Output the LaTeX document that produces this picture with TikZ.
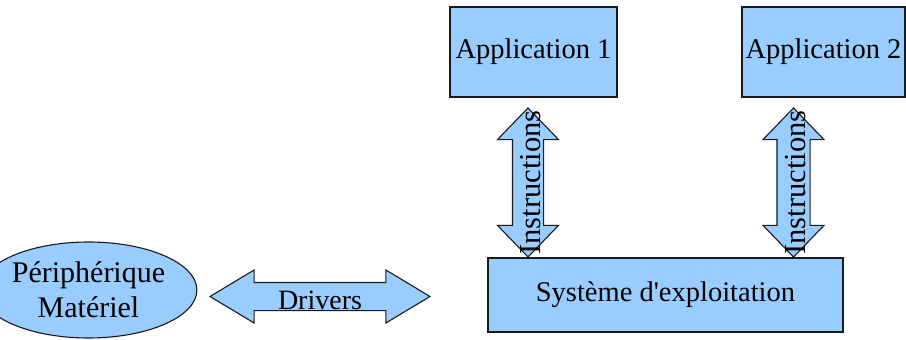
\documentclass[tikz,border=0pt]{standalone}
\usepackage{fontspec}
\setmainfont{Liberation Serif}
\usetikzlibrary{shapes.geometric, shapes.arrows}
\definecolor{layerFill}{HTML}{99CCFF}
\definecolor{layerLine}{HTML}{1A1A1A}
\tikzset{
    layer box/.style={
        rectangle,
        draw=layerLine,
        fill=layerFill,
        line width=1.1pt,
        inner sep=0pt,
        minimum width=#1,
        font=\fontsize{28.5}{34}\selectfont,
    },
    flow arrow/.style={
        double arrow,
        draw=layerLine,
        fill=layerFill,
        line width=1.1pt,
        inner sep=0pt,
        text height=#1,
        text depth=#1,
    },
    flow label/.style={
        font=\fontsize{28}{34}\selectfont,
        inner sep=0pt,
        anchor=base,
    },
}

\begin{document}
\begin{tikzpicture}[x=1pt, y=-1pt]
\useasboundingbox (0,0) rectangle (906,340);

% ── APPLICATIONS ───────────────────────────────────────────────────

\node[layer box=167pt, minimum height=90pt] (app1) at (533.5, 52) {Application 1};
\node[layer box=163pt, minimum height=90pt] (app2) at (823.5, 52) {Application 2};

% ── OPERATING SYSTEM ───────────────────────────────────────────────

\node[layer box=355pt, minimum height=74pt] (os) at (665.5, 295) {Système d\textquotesingle exploitation};

% ── DEVICE ─────────────────────────────────────────────────────────

\node[layer box=167pt, ellipse, minimum height=96pt, align=center,
      font=\fontsize{30}{35}\selectfont] (device) at (88.5, 290) {Périphérique\\Matériel};

% ── FLOWS ──────────────────────────────────────────────────────────

\node[flow arrow=15pt, minimum height=149pt, rotate=90,
      double arrow head extend=15pt, double arrow tip angle=88] (instr1) at (528, 182.5) {};
\node[flow arrow=16pt, minimum height=149pt, rotate=90,
      double arrow head extend=14pt, double arrow tip angle=88] (instr2) at (793.5, 182.5) {};
\node[flow arrow=13.5pt, minimum height=220pt,
      double arrow head extend=12.5pt, double arrow tip angle=62] (drivers) at (320, 296.5) {};

\node[flow label, rotate=90, font=\fontsize{30.5}{34}\selectfont] at ([xshift=12pt]instr1.center) {Instructions};
\node[flow label, rotate=90, font=\fontsize{30.5}{34}\selectfont] at ([xshift=12pt]instr2.center) {Instructions};
\node[flow label] at ([yshift=-13pt]drivers.center) {Drivers};

\end{tikzpicture}
\end{document}
